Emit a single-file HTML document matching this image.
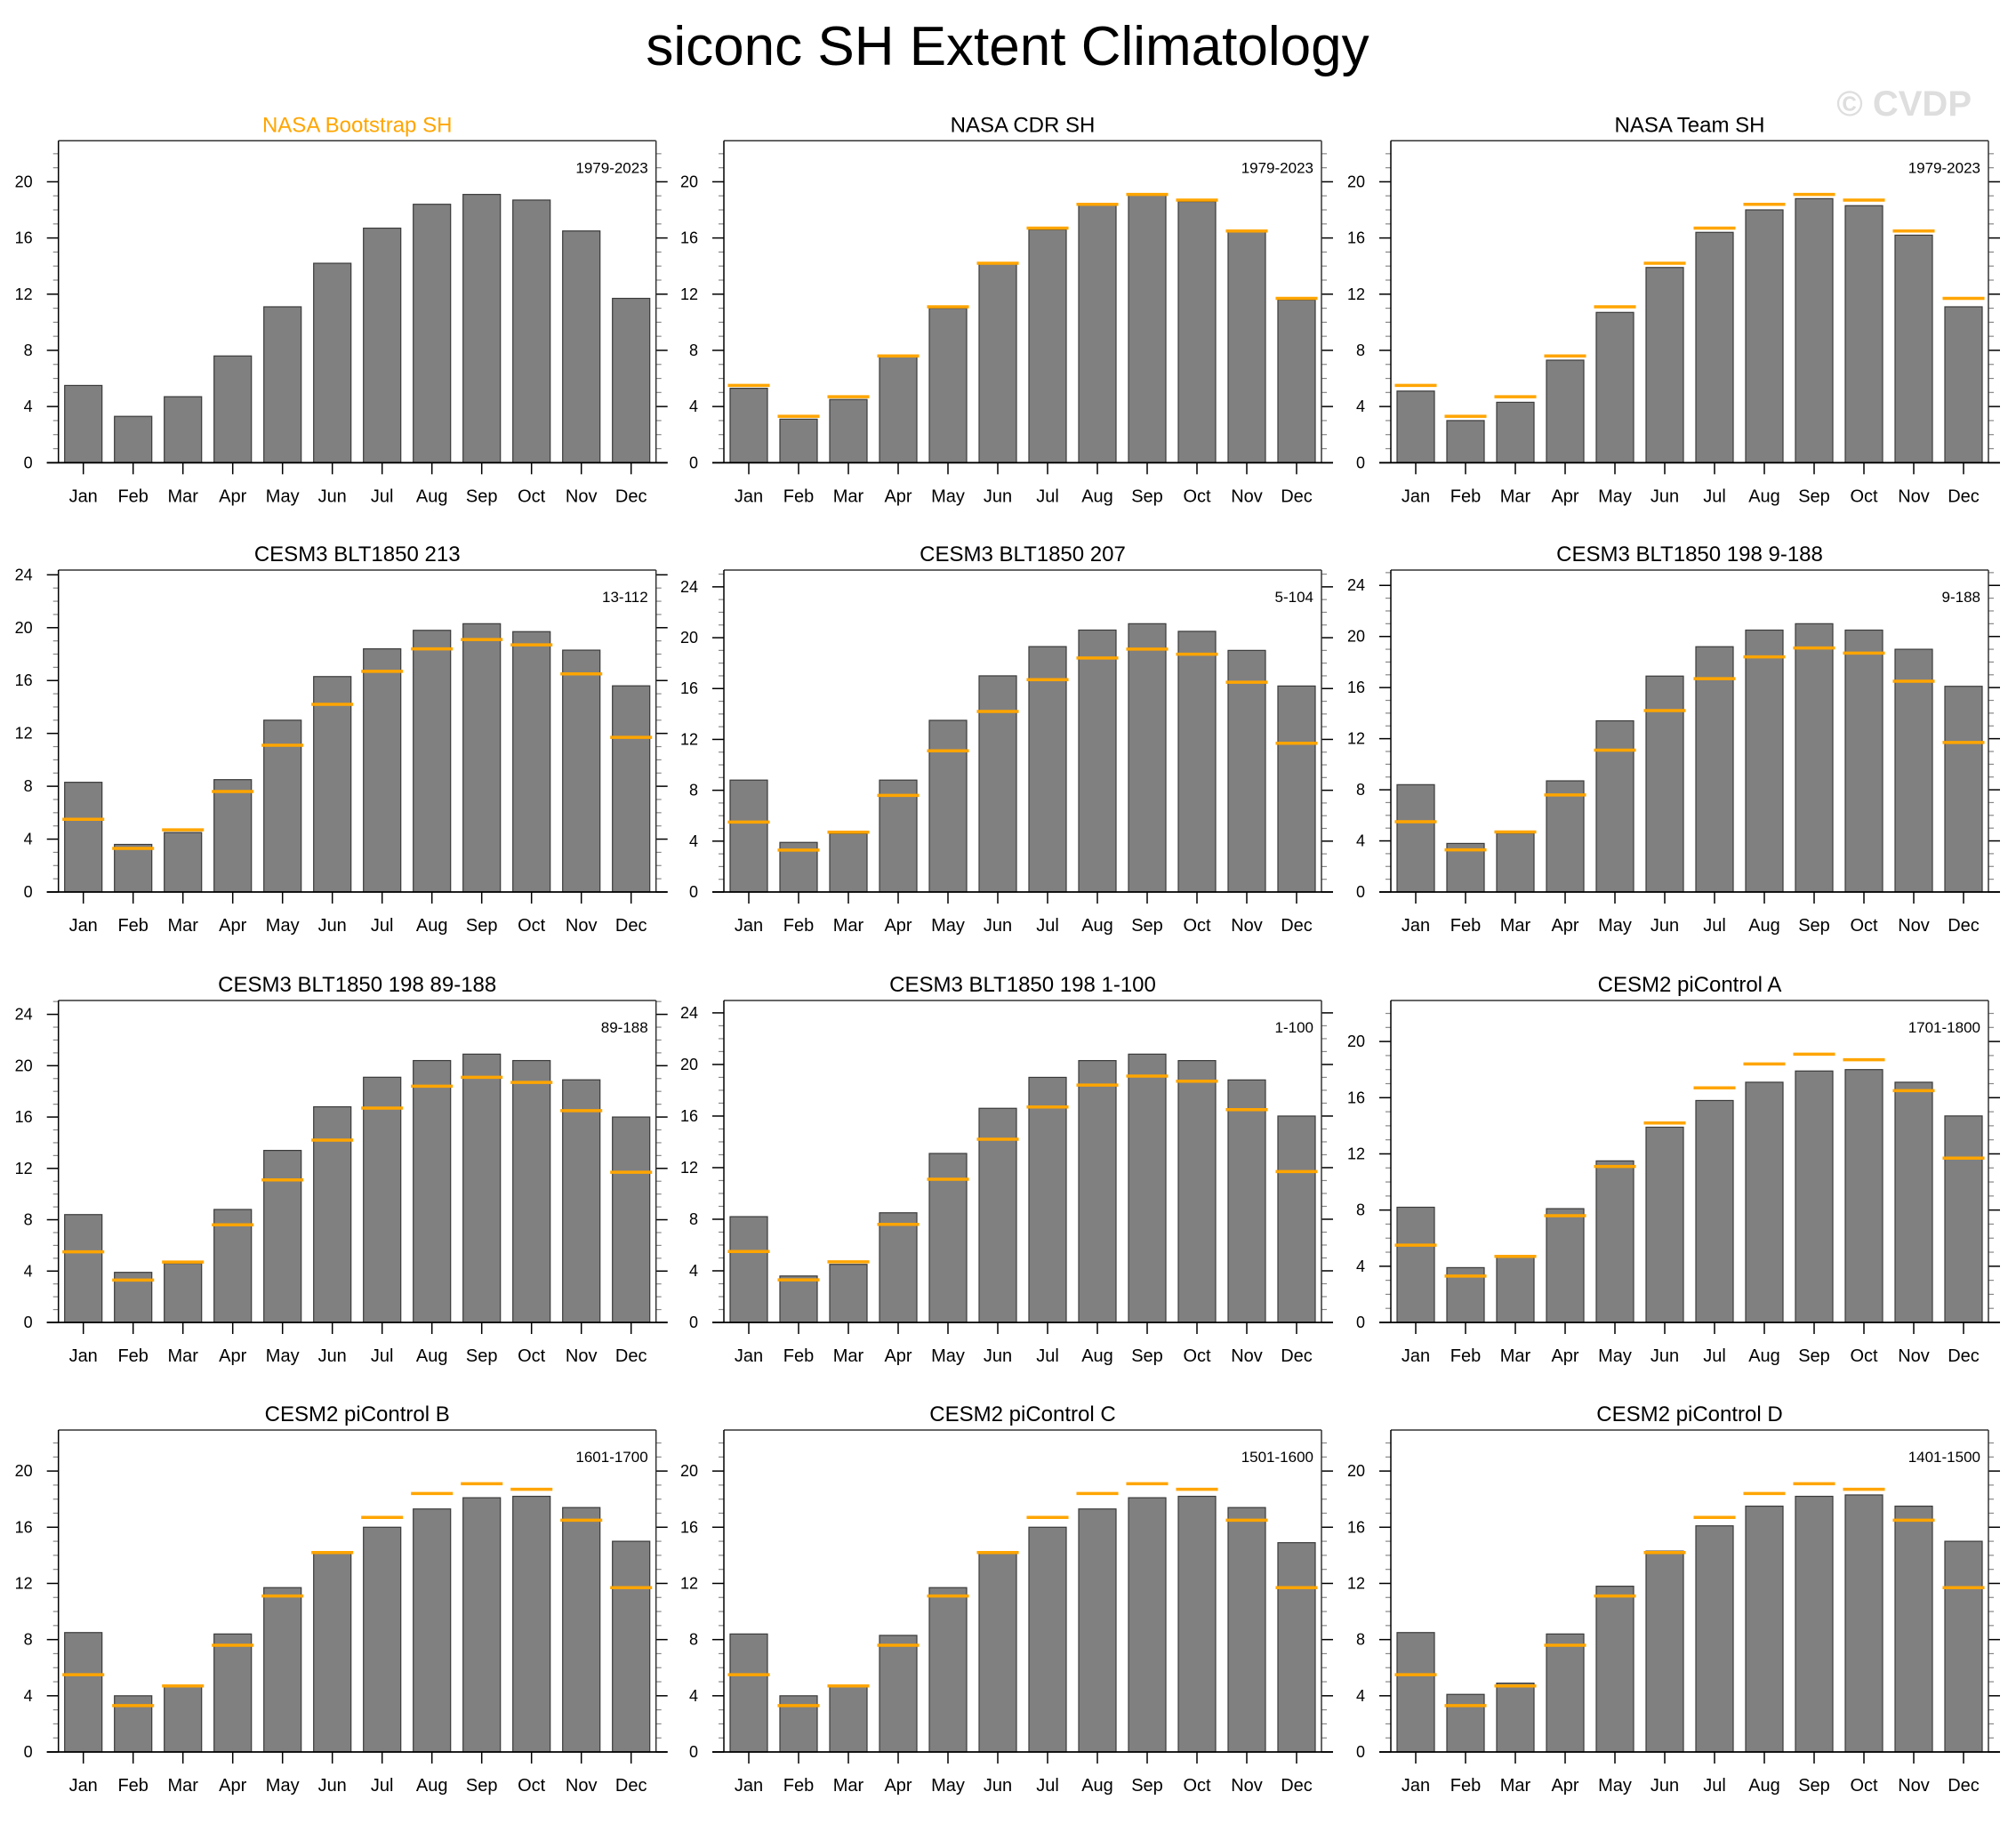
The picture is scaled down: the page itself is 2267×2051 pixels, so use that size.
<!DOCTYPE html>
<html><head><meta charset="utf-8"><title>siconc SH Extent Climatology</title>
<style>html,body{margin:0;padding:0;background:#fff;}svg{display:block;font-family:"Liberation Sans",Arial,sans-serif;}</style>
</head><body>
<svg id="chart" width="2267" height="2051" viewBox="0 0 2267 2051" xmlns="http://www.w3.org/2000/svg">
<text x="1133" y="73" text-anchor="middle" font-size="62" fill="#000">siconc SH Extent Climatology</text>
<text x="2217" y="130" text-anchor="end" font-size="40" font-weight="bold" fill="#dedede">© CVDP</text>
</svg>
<script>
const months = ["Jan","Feb","Mar","Apr","May","Jun","Jul","Aug","Sep","Oct","Nov","Dec"];
const obsValues = [5.5,3.3,4.7,7.6,11.1,14.2,16.7,18.4,19.1,18.7,16.5,11.7];
const panelTitles = ["NASA Bootstrap SH","NASA CDR SH","NASA Team SH","CESM3 BLT1850 213","CESM3 BLT1850 207","CESM3 BLT1850 198 9-188","CESM3 BLT1850 198 89-188","CESM3 BLT1850 198 1-100","CESM2 piControl A","CESM2 piControl B","CESM2 piControl C","CESM2 piControl D"];
const panelYears = ["1979-2023","1979-2023","1979-2023","13-112","5-104","9-188","89-188","1-100","1701-1800","1601-1700","1501-1600","1401-1500"];
const valsBootstrap = [5.5,3.3,4.7,7.6,11.1,14.2,16.7,18.4,19.1,18.7,16.5,11.7];
const valsCDR = [5.3,3.1,4.5,7.6,11.0,14.2,16.6,18.4,19.1,18.6,16.5,11.6];
const valsTeam = [5.1,3.0,4.3,7.3,10.7,13.9,16.4,18.0,18.8,18.3,16.2,11.1];
const vals213 = [8.3,3.6,4.5,8.5,13.0,16.3,18.4,19.8,20.3,19.7,18.3,15.6];
const vals207 = [8.8,3.9,4.6,8.8,13.5,17.0,19.3,20.6,21.1,20.5,19.0,16.2];
const vals198a = [8.4,3.8,4.6,8.7,13.4,16.9,19.2,20.5,21.0,20.5,19.0,16.1];
const vals198b = [8.4,3.9,4.6,8.8,13.4,16.8,19.1,20.4,20.9,20.4,18.9,16.0];
const vals198c = [8.2,3.6,4.5,8.5,13.1,16.6,19.0,20.3,20.8,20.3,18.8,16.0];
const valsA = [8.2,3.9,4.7,8.1,11.5,13.9,15.8,17.1,17.9,18.0,17.1,14.7];
const valsB = [8.5,4.0,4.7,8.4,11.7,14.2,16.0,17.3,18.1,18.2,17.4,15.0];
const valsC = [8.4,4.0,4.7,8.3,11.7,14.2,16.0,17.3,18.1,18.2,17.4,14.9];
const valsD = [8.5,4.1,4.9,8.4,11.8,14.3,16.1,17.5,18.2,18.3,17.5,15.0];
const panelValues = [valsBootstrap,valsCDR,valsTeam,vals213,vals207,vals198a,vals198b,vals198c,valsA,valsB,valsC,valsD];

const NS = "http://www.w3.org/2000/svg";
const svg = document.getElementById("chart");
function mk(tag, attrs, parent){const e=document.createElementNS(NS,tag);for(const k in attrs)e.setAttribute(k,attrs[k]);(parent||svg).appendChild(e);return e;}

const colLeft=[65.7,814,1564], W=672, H=362;
const rowBottom=[520.3,1003,1487,1970];

panelValues.forEach((vals,p)=>{
  const r=Math.floor(p/3), c=p%3;
  const L=colLeft[c], B=rowBottom[r], T=B-H, R=L+W;
  const ymax=1.2*Math.max(...vals, p===0?0:Math.max(...obsValues));
  const y=v=>B-v/ymax*H;
  const x=i=>L+(i+0.5)*W/12;
  const g=mk("g",{});
  
  
  const t=mk("text",{x:(L+R)/2,y:T-10,"text-anchor":"middle","font-size":"24",fill:p===0?"#FFA500":"#000"},g);
  t.textContent=panelTitles[p];
  
  
  const yr=mk("text",{x:R-9,y:T+36,"text-anchor":"end","font-size":"17",fill:"#000"},g);
  yr.textContent=panelYears[p];
  
  
  for(let v=0;v<=ymax;v+=1){
    const yy=y(v), major=v%4===0;
    const len=major?13:6;
    mk("line",{x1:L-len,x2:L,y1:yy,y2:yy,stroke:major?"#000":"#888","stroke-width":major?1.5:1.2},g);
    mk("line",{x1:R,x2:R+len,y1:yy,y2:yy,stroke:major?"#000":"#888","stroke-width":major?1.5:1.2},g);
    if(major){
      const tl=mk("text",{x:L-29,y:yy+6,"text-anchor":"end","font-size":"18",fill:"#000"},g);
      tl.textContent=v;
      
      
    }
  }
  vals.forEach((v,i)=>{
    const bw=W/12*0.75;
    const b=mk("rect",{x:x(i)-bw/2,y:y(v),width:bw,height:B-y(v),fill:"#808080",stroke:"#3a3a3a","stroke-width":1.2},g);
    
    
  });
  if(p!==0){
    obsValues.forEach((v,i)=>{
      const ow=W/12*0.84;
      const o=mk("line",{x1:x(i)-ow/2,x2:x(i)+ow/2,y1:y(v),y2:y(v),stroke:"#FFA500","stroke-width":3.5},g);
      
      
    });
  }
  mk("line",{x1:L,x2:R,y1:T,y2:T,stroke:"#333","stroke-width":1.5},g);
  mk("line",{x1:L,x2:L,y1:T,y2:B,stroke:"#000","stroke-width":1.5},g);
  mk("line",{x1:R,x2:R,y1:T,y2:B,stroke:"#333","stroke-width":1.5},g);
  mk("line",{x1:L-13,x2:R+13,y1:B,y2:B,stroke:"#000","stroke-width":1.8},g);
  months.forEach((m,i)=>{
    mk("line",{x1:x(i),x2:x(i),y1:B,y2:B+13,stroke:"#000","stroke-width":1.5},g);
    const ml=mk("text",{x:x(i),y:B+44,"text-anchor":"middle","font-size":"20",fill:"#000"},g);
    ml.textContent=m;
    
    
  });
});
</script>
</body></html>
